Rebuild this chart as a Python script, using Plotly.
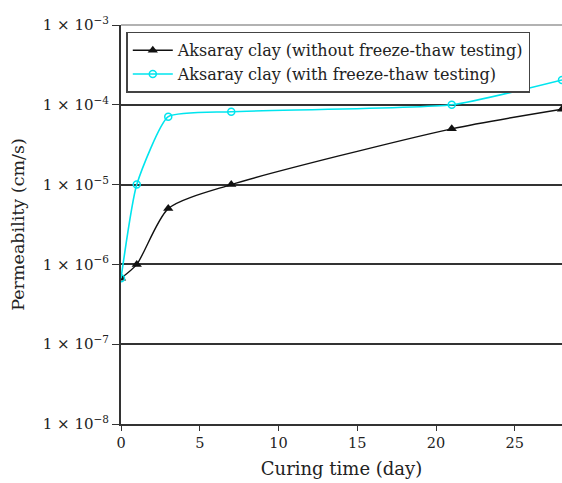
import plotly.graph_objects as go

days_without = [0, 1, 3, 7, 21, 28]
perm_without = [6.7e-7, 1.0e-6, 5.0e-6, 1.0e-5, 5.0e-5, 8.8e-5]
days_with = [0, 1, 3, 7, 21, 28]
perm_with = [6.7e-7, 1.0e-5, 7.1e-5, 8.2e-5, 1.0e-4, 2.05e-4]

y_tickvals = [1e-8, 1e-7, 1e-6, 1e-5, 1e-4, 1e-3]
y_ticktext = ["1 × 10<sup>−8</sup>", "1 × 10<sup>−7</sup>", "1 × 10<sup>−6</sup>",
              "1 × 10<sup>−5</sup>", "1 × 10<sup>−4</sup>", "1 × 10<sup>−3</sup>"]
x_tickvals = [0, 5, 10, 15, 20, 25]

FONT = "DejaVu Serif"

fig = go.Figure()
fig.add_trace(go.Scatter(
    x=days_without, y=perm_without, mode="lines+markers",
    name="Aksaray clay (without freeze-thaw testing)",
    line=dict(color="#111111", width=1.4, shape="spline", smoothing=0.7),
    marker=dict(symbol="triangle-up", size=9, color="#111111"),
))
fig.add_trace(go.Scatter(
    x=days_with, y=perm_with, mode="lines+markers",
    name="Aksaray clay (with freeze-thaw testing)",
    line=dict(color="#00e5ee", width=1.6, shape="spline", smoothing=0.5),
    marker=dict(symbol="circle-open", size=7, color="#00e5ee", line=dict(width=1.5)),
))

# light frame line along the top of the plotting area
fig.add_shape(type="line", xref="paper", yref="paper", x0=0, x1=1, y0=1, y1=1,
              line=dict(color="#999999", width=1.5))

fig.update_layout(
    width=562, height=483,
    margin=dict(l=121, r=0, t=25, b=59),
    paper_bgcolor="white", plot_bgcolor="white",
    font=dict(family=FONT, size=14, color="#222222"),
    showlegend=True,
    legend=dict(
        x=0.012, y=0.983, xanchor="left", yanchor="top",
        bordercolor="#444444", borderwidth=1.5, bgcolor="white",
        font=dict(family=FONT, size=16, color="#222222"),
        tracegroupgap=0, itemwidth=40,
    ),
    xaxis=dict(
        range=[0, 28], tickvals=x_tickvals, ticks="outside", ticklen=5,
        tickcolor="#333333", showline=True, linecolor="#333333", linewidth=2,
        showgrid=False, zeroline=False,
        title=dict(text="Curing time (day)", font=dict(family=FONT, size=18), standoff=12),
        tickfont=dict(family=FONT, size=14.5),
    ),
    yaxis=dict(
        type="log", range=[-8, -3], tickvals=y_tickvals, ticktext=y_ticktext,
        ticks="outside", ticklen=7, tickcolor="#333333",
        showline=True, linecolor="#333333", linewidth=2,
        showgrid=True, gridcolor="#333333", gridwidth=1.5, zeroline=False,
        title=dict(text="Permeability (cm/s)", font=dict(family=FONT, size=17.5), standoff=14),
        tickfont=dict(family=FONT, size=15),
    ),
)

fig.write_html("out.html")
